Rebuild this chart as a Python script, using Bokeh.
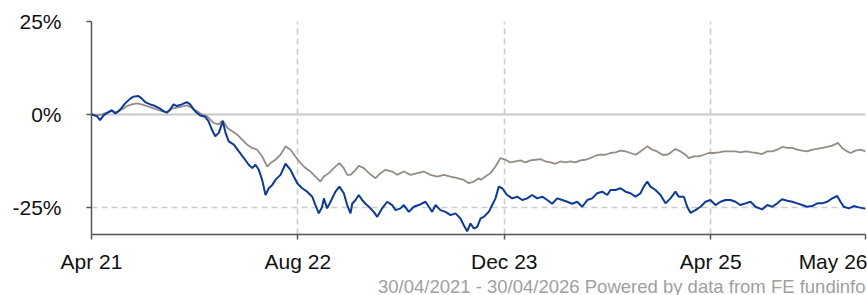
from bokeh.plotting import figure
from bokeh.models import Range1d, FixedTicker, Span, Title
from bokeh.embed import file_html
from bokeh.resources import INLINE

# months since 30/04/2021, cumulative performance %
fund_m = [0, 0.41, 0.67, 0.93, 1.32, 1.57, 1.84, 2.09, 2.35, 2.61, 3.00, 3.26, 3.64, 3.90, 4.16, 4.55, 4.94,
          5.33, 5.58, 5.84, 6.10, 6.36, 6.61, 7.00, 7.39, 7.65, 7.91, 8.16, 8.43, 8.81, 9.07, 9.33, 9.59,
          9.87, 10.18, 10.39, 10.64, 11.03, 11.42, 11.81, 12.19, 12.46, 12.71, 12.97, 13.23, 13.49, 13.74,
          14.01, 14.26, 14.65, 15.04, 15.43, 15.68, 15.95, 16.33, 16.72, 17.11, 17.36, 17.62, 17.88, 18.01,
          18.27, 18.53, 18.91, 19.22, 19.56, 19.82, 20.08, 20.21, 20.47, 20.72, 20.98, 21.24, 21.50, 21.88,
          22.15, 22.53, 22.92, 23.31, 23.57, 23.95, 24.21, 24.60, 24.98, 25.37, 25.89, 26.15, 26.41, 26.67,
          27.05, 27.44, 27.83, 28.22, 28.60, 28.86, 29.12, 29.38, 29.64, 29.90, 30.16, 30.41, 30.80, 31.06,
          31.32, 31.57, 31.84, 32.22, 32.61, 33.00, 33.39, 33.77, 34.16, 34.55, 34.94, 35.33, 35.71, 36.10,
          36.49, 36.88, 37.26, 37.65, 38.04, 38.43, 38.81, 39.20, 39.59, 39.98, 40.23, 40.62, 41.01, 41.40,
          41.78, 42.17, 42.56, 42.81, 43.08, 43.33, 43.72, 44.11, 44.50, 44.88, 45.27, 45.53, 45.92, 46.18,
          46.43, 46.82, 47.21, 47.60, 47.98, 48.37, 48.76, 49.15, 49.53, 49.92, 50.31, 50.70, 51.09, 51.47,
          51.99, 52.38, 52.77, 53.16, 53.54, 53.93, 54.32, 54.71, 55.09, 55.48, 55.87, 56.26, 56.64, 57.03,
          57.42, 57.81, 58.06, 58.32, 58.71, 59.09, 59.48, 59.87, 60.0]
fund_v = [0, -0.46, -1.54, -0.27, 0.62, 1.16, 0.27, 0.89, 1.82, 2.98, 4.25, 4.79, 4.96, 4.25, 3.33, 2.71, 2.25,
          1.54, 0.89, 0.46, 1.35, 2.71, 2.25, 2.71, 3.33, 2.71, 1.35, 0.46, -0.27, -0.62, -1.82, -4.06, -5.88,
          -4.96, -1.82, -4.96, -7.23, -8.13, -9.94, -11.73, -13.54, -14.44, -13.54, -14.90, -17.61, -21.67, -19.86,
          -18.96, -17.61, -16.25, -13.27, -14.90, -16.71, -18.50, -19.86, -20.78, -22.13, -24.38, -26.63, -24.84, -22.57,
          -25.27, -23.49, -20.78, -19.42, -21.21, -24.38, -26.63, -24.03, -23.03, -21.67, -23.03, -24.03, -24.84, -26.20,
          -27.55, -25.27, -23.49, -24.38, -25.74, -25.27, -24.38, -26.20, -24.84, -24.38, -23.49, -24.84, -26.20, -24.38,
          -25.74, -26.20, -27.09, -26.63, -27.98, -29.80, -31.42, -29.34, -30.69, -30.26, -27.98, -27.55, -26.20, -24.38,
          -22.57, -19.42, -19.86, -21.67, -22.57, -22.13, -23.03, -22.57, -21.67, -22.57, -22.13, -23.03, -24.03, -22.57,
          -23.03, -23.49, -24.03, -23.49, -24.84, -23.03, -22.57, -21.21, -20.78, -21.67, -20.32, -20.32, -19.86, -20.78,
          -21.21, -22.13, -21.21, -19.42, -18.07, -19.42, -20.32, -21.67, -23.92, -22.57, -20.78, -22.13, -22.13, -24.84,
          -26.47, -25.74, -24.84, -23.49, -23.03, -24.38, -23.49, -23.03, -23.03, -23.49, -24.38, -23.92, -23.49, -24.84,
          -25.55, -24.38, -24.84, -23.92, -22.84, -23.22, -23.49, -23.92, -24.38, -24.84, -24.65, -23.92, -23.92, -23.49,
          -22.57, -21.94, -23.49, -24.84, -25.27, -24.65, -25.00, -25.27, -25.40]

sector_m = [0, 0.41, 0.80, 1.19, 1.57, 1.96, 2.35, 2.74, 3.12, 3.51, 3.90, 4.29, 4.67, 5.06, 5.45, 5.84, 6.22,
            6.61, 7.00, 7.39, 7.78, 8.16, 8.55, 8.94, 9.20, 9.46, 9.84, 10.18, 10.52, 10.91, 11.29, 11.68, 12.07,
            12.46, 12.84, 13.23, 13.62, 13.88, 14.26, 14.65, 15.04, 15.43, 15.81, 16.20, 16.59, 16.98, 17.36,
            17.75, 18.01, 18.40, 18.78, 19.22, 19.56, 19.82, 20.08, 20.47, 20.72, 21.11, 21.50, 22.02, 22.40,
            22.79, 23.31, 23.70, 24.21, 24.73, 25.25, 25.76, 26.28, 26.80, 27.31, 27.83, 28.35, 28.86, 29.25,
            29.64, 30.02, 30.16, 30.54, 30.93, 31.32, 31.71, 32.09, 32.48, 32.87, 33.26, 33.64, 34.03, 34.42,
            34.81, 35.19, 35.58, 35.97, 36.36, 36.74, 37.13, 37.52, 37.91, 38.29, 38.68, 39.07, 39.46, 39.84,
            40.23, 40.62, 41.01, 41.40, 41.78, 42.17, 42.56, 43.08, 43.46, 43.85, 44.24, 44.63, 45.02, 45.27,
            45.66, 46.05, 46.30, 46.69, 47.08, 47.47, 47.85, 48.24, 48.63, 49.02, 49.40, 49.92, 50.31, 50.70,
            51.22, 51.60, 51.99, 52.38, 52.77, 53.16, 53.54, 53.93, 54.32, 54.71, 55.09, 55.48, 55.87, 56.26,
            56.64, 57.03, 57.42, 57.88, 58.19, 58.58, 58.84, 59.22, 59.61, 60.0]
sector_v = [0, -0.27, 0, 0.46, 0.89, 0.46, 1.35, 2.25, 2.71, 2.98, 2.71, 2.25, 1.82, 1.35, 0.89, 0.62, 1.54,
            1.82, 2.09, 2.44, 1.82, 0.89, 0, -0.46, -1.35, -2.25, -2.71, -1.63, -3.60, -4.52, -5.42, -6.77, -8.13,
            -9.02, -9.48, -11.30, -14.01, -13.08, -12.19, -10.84, -8.59, -9.48, -11.30, -13.08, -14.44, -15.36, -16.71,
            -18.07, -16.71, -15.79, -14.44, -13.08, -14.44, -16.25, -16.25, -14.90, -13.82, -14.44, -15.79, -17.15, -15.79,
            -14.90, -15.36, -16.25, -15.36, -16.25, -15.79, -15.36, -16.25, -16.71, -16.25, -16.71, -17.15, -17.61, -18.50,
            -18.07, -17.15, -17.61, -16.71, -15.79, -14.01, -11.73, -12.19, -12.92, -12.65, -12.38, -12.92, -12.38, -12.19,
            -12.00, -12.65, -12.92, -13.27, -12.65, -12.92, -12.65, -12.92, -12.38, -12.19, -11.73, -11.11, -10.84, -10.84,
            -10.38, -10.21, -9.75, -9.94, -10.38, -10.84, -9.94, -8.59, -9.48, -9.94, -10.84, -10.84, -9.94, -9.29,
            -9.94, -10.84, -11.73, -11.30, -11.30, -10.84, -10.38, -10.38, -10.21, -9.94, -9.94, -9.94, -10.21, -9.94,
            -10.21, -10.38, -10.65, -9.94, -9.94, -9.48, -8.75, -9.02, -9.02, -9.48, -9.75, -9.94, -9.48, -9.29,
            -9.02, -8.75, -8.40, -7.67, -9.02, -9.94, -10.38, -9.75, -9.48, -9.94]

x_ticks = [0, 16, 32, 48, 60]
x_labels = ["Apr 21", "Aug 22", "Dec 23", "Apr 25", "May 26"]
y_ticks = [-25, 0, 25]
y_labels = ["-25%", "0%", "25%"]
footer = "30/04/2021 - 30/04/2026 Powered by data from FE fundinfo"

FONT = "Liberation Sans"

p = figure(width=867, height=295, output_backend="svg", toolbar_location=None,
           x_range=Range1d(0, 60), y_range=Range1d(-32.3, 25),
           min_border_left=91, min_border_right=2, min_border_top=21, min_border_bottom=61)
p.outline_line_color = None
p.background_fill_color = "white"
p.border_fill_color = "white"

# grids
p.xgrid.ticker = FixedTicker(ticks=x_ticks[1:])
p.ygrid.ticker = FixedTicker(ticks=[-25, 25])
for g in (p.xgrid, p.ygrid):
    g.grid_line_color = "#cccccc"
    g.grid_line_width = 1.6
    g.grid_line_dash = "6 4"
p.add_layout(Span(location=0, dimension="width", line_color="#c8c8c8", line_width=2, level="underlay"))

# axes (Bokeh pulls the last label inside the canvas, so it ends at the frame's edge)
p.xaxis.ticker = FixedTicker(ticks=x_ticks)
p.xaxis.major_label_overrides = {t: l for t, l in zip(x_ticks, x_labels)}
p.yaxis.ticker = FixedTicker(ticks=y_ticks)
p.yaxis.major_label_overrides = {t: l for t, l in zip(y_ticks, y_labels)}
for ax in (p.xaxis, p.yaxis):
    ax.axis_line_color = "#555555"
    ax.axis_line_width = 1.5
    ax.major_tick_line_color = "#555555"
    ax.major_tick_line_width = 1.5
    ax.major_tick_out = 5
    ax.major_tick_in = 0
    ax.minor_tick_line_color = None
    ax.major_label_text_font = FONT
    ax.major_label_text_font_size = "21px"
    ax.major_label_text_color = "#111111"
p.xaxis.major_label_standoff = 10
p.yaxis.major_label_standoff = 25

p.line(sector_m, sector_v, line_color="#968c86", line_width=1.8)
p.line(fund_m, fund_v, line_color="#0b3a9e", line_width=2.0)

foot = Title(text=footer, align="right", text_font=FONT, text_font_size="18.5px",
             text_font_style="normal", text_color="#a0a0a0", standoff=0)
try:
    foot.standoff = -4
except Exception:
    foot.standoff = 0
p.add_layout(foot, "below")

open("out.html", "w").write(file_html(p, INLINE))
